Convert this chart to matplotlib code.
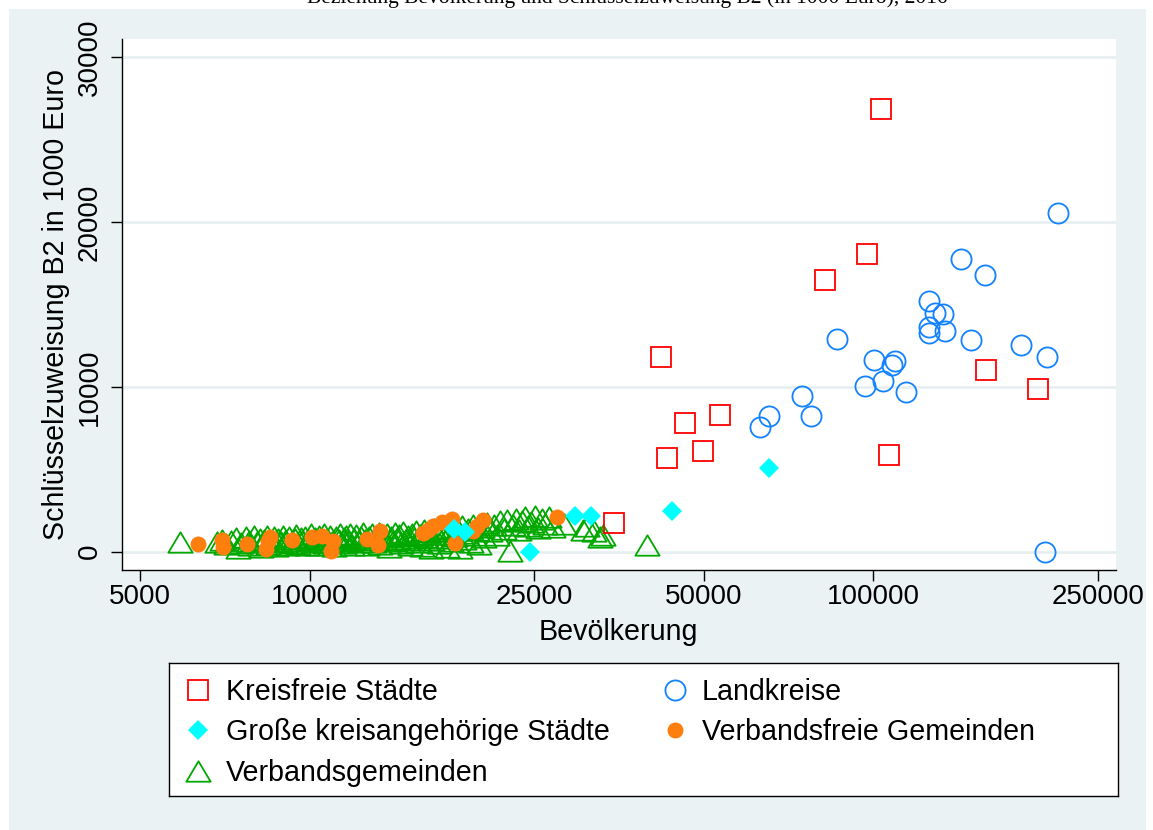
import matplotlib
matplotlib.use("Agg")
import matplotlib.pyplot as plt
from matplotlib.path import Path
from matplotlib.ticker import NullLocator

plt.rcParams['font.family'] = ['Liberation Sans', 'DejaVu Sans']

# ---------------- data ----------------
title = "Beziehung Bevölkerung und Schlüsselzuweisung B2 (in 1000 Euro), 2016"
x_label = "Bevölkerung"
y_label = "Schlüsselzuweisung B2 in 1000 Euro"
x_ticks = [5000, 10000, 25000, 50000, 100000, 250000]
y_ticks = [0, 10000, 20000, 30000]

series_names = ["Kreisfreie Städte", "Landkreise", "Große kreisangehörige Städte",
                "Verbandsfreie Gemeinden", "Verbandsgemeinden"]

kfs_pop = [103160, 97540, 82170, 42050, 158600, 196100, 53500, 46390, 49800, 43090, 106580, 34660]
kfs_b2 = [26845, 18046, 16487, 11796, 11026, 9891, 8295, 7809, 6110, 5704, 5850, 1760]

lk_pop = [212600, 142860, 157530, 125680, 128640, 133070, 125370, 125680, 133830, 149130, 182750, 203000,
          86070, 100370, 109370, 107770, 96510, 104130, 114120, 74620, 77410, 65280, 62930, 201800]
lk_b2 = [20552, 17761, 16790, 15212, 14466, 14424, 13617, 13252, 13374, 12846, 12542, 11833,
         12925, 11632, 11572, 11329, 10055, 10376, 9672, 9448, 8252, 8234, 7585, 0]

gks_pop = [65200, 43930, 29600, 31510, 18030, 18830, 24600]
gks_b2 = [5097, 2470, 2184, 2184, 1359, 1214, 0]

vfg_pop = [6344, 6982, 7027, 7750, 8365, 8503, 8444, 9314, 10083, 10503, 10896, 11013, 12622,
           13234, 13326, 15908, 16570, 17148, 17864, 18106, 19513, 20326, 27496, 16235, 19786]
vfg_b2 = [485, 728, 267, 485, 182, 874, 631, 692, 874, 971, 25, 631, 789,
          425, 1238, 1135, 1541, 1802, 2002, 528, 1238, 1942, 2087, 1335, 1541]

vg_pop = [5890, 6850, 6980, 7100,
          7250, 7400, 7450, 7550, 7700, 7800, 7850, 7950,
          8050, 8150, 8200, 8300, 8400, 8450, 8550, 8650, 8700, 8800, 8900, 8950,
          9050, 9100, 9200, 9300, 9400, 9450, 9550, 9650, 9700, 9800, 9900, 9950,
          10050, 10150, 10200, 10300, 10400, 10500, 10600, 10650, 10750, 10850, 10950,
          11050, 11150, 11250, 11300, 11400, 11500, 11600, 11700, 11800, 11900,
          12000, 12100, 12250, 12350, 12450, 12550, 12650, 12750, 12900,
          13000, 13100, 13250, 13350, 13450, 13600, 13700, 13850, 13950,
          14050, 14150, 14300, 14400, 14550, 14650, 14800, 14950,
          15050, 15200, 15300, 15450, 15550, 15700, 15850, 15950,
          16100, 16250, 16400, 16500, 16650, 16800, 16950,
          17100, 17250, 17400, 17500, 17650, 17800, 17950,
          18100, 18300, 18450, 18600, 18750, 18900,
          19100, 19300, 19450, 19600, 19800, 19950,
          20200, 20400, 20600, 20900, 21200, 21500, 21800,
          22100, 22400, 22700, 22900, 23200, 23500, 23800, 24100, 24400, 24700,
          25100, 25400, 25800, 26200, 26600, 27000,
          28200, 30600, 31000, 32000, 32700, 33200, 39700]
vg_b2 = [590, 560, 700, 480,
         620, 820, 250, 530, 880, 660, 380, 930,
         560, 800, 290, 700, 950, 480, 620, 870, 350, 760, 560, 980,
         650, 420, 880, 540, 760, 1000, 470, 820, 620, 920, 380, 700,
         1050, 560, 830, 430, 950, 680, 1100, 520, 790, 980, 600,
         350, 880, 700, 1050, 500, 820, 950, 620, 1100, 420,
         760, 1000, 560, 880, 1150, 680, 380, 920, 1050,
         600, 830, 1150, 480, 950, 720, 1080, 300, 880,
         620, 1150, 800, 1000, 520, 1200, 700, 950,
         420, 1100, 820, 1250, 600, 1000, 350, 1300,
         900, 1200, 250, 700, 1350, 1050, 500,
         1250, 850, 1450, 300, 1100, 650, 1500,
         950, 1300, 250, 1550, 780, 1150,
         1400, 600, 1650, 1000, 1300, 450,
         1500, 900, 1750, 1250, 1600, 1000, 1850,
         1400, 1950, 20, 1650, 2000, 1300, 1850, 2100, 1550, 1800,
         2150, 1450, 2000, 1700, 2100, 1500,
         1700, 1320, 1540, 1240, 920, 1030, 400]

# ---------------- style ----------------
W, H = 1153, 830
BG = '#eaf2f3'
c_red = '#ff0000'
c_blue = '#1282ff'
c_cyan = '#00ffff'
c_orange = '#ff7f0e'
c_green = '#00a800'
FS_TITLE = 20.6

tri = Path([(0, 0.42), (-0.5, -0.42), (0.5, -0.42), (0, 0.42)],
           [Path.MOVETO, Path.LINETO, Path.LINETO, Path.CLOSEPOLY])

styles = {
    "Kreisfreie Städte": dict(marker='s', ms=14, mfc='none', mec=c_red, mew=1.3),
    "Landkreise": dict(marker='o', ms=14.5, mfc='none', mec=c_blue, mew=1.3),
    "Große kreisangehörige Städte": dict(marker='D', ms=10, mfc=c_cyan, mec=c_cyan, mew=0),
    "Verbandsfreie Gemeinden": dict(marker='o', ms=11.5, mfc=c_orange, mec=c_orange, mew=0),
    "Verbandsgemeinden": dict(marker=tri, ms=17.5, mfc='none', mec=c_green, mew=1.3),
}

fig = plt.figure(figsize=(W / 100, H / 100), dpi=100)
fig.patch.set_facecolor('white')
bg = fig.add_axes([9 / W, 0, (1146 - 9) / W, 1 - 9.3 / H], zorder=-10)
bg.set_facecolor(BG)
bg.set_xticks([])
bg.set_yticks([])
for s in bg.spines.values():
    s.set_visible(False)

fig.text(627 / W, 1 - 3.0 / H, title, family=['Liberation Serif', 'DejaVu Serif'],
         fontsize=15.5, ha='center', va='baseline')

ax = fig.add_axes([121.7 / W, 1 - 570 / H, (1115.7 - 121.7) / W, (570 - 39) / H])
ax.set_facecolor('white')
ax.set_xscale('log')
ax.set_xlim(4640.6, 269000)
ax.set_ylim(-1110, 31110)

data = [
    ("Verbandsgemeinden", vg_pop, vg_b2, 2),
    ("Verbandsfreie Gemeinden", vfg_pop, vfg_b2, 3),
    ("Große kreisangehörige Städte", gks_pop, gks_b2, 4),
    ("Landkreise", lk_pop, lk_b2, 5),
    ("Kreisfreie Städte", kfs_pop, kfs_b2, 6),
]
for name, xs, ys, z in data:
    ax.plot(xs, ys, linestyle='none', zorder=z, **styles[name])

for yt in y_ticks:
    ax.axhline(yt, color='#e6eef0', lw=1.9, zorder=1)

ax.set_xticks(x_ticks, labels=[str(t) for t in x_ticks])
ax.xaxis.set_minor_locator(NullLocator())
ax.set_yticks(y_ticks, labels=[str(t) for t in y_ticks])
ax.tick_params(axis='both', direction='out', length=7.9, width=1, color='black',
               labelsize=20, labelcolor='black')
ax.tick_params(axis='x', pad=2.5)
ax.tick_params(axis='y', pad=5.5)
for lab in ax.get_yticklabels():
    lab.set_rotation(90)
    lab.set_va('center')
    lab.set_ha('right')

for s in ['top', 'right']:
    ax.spines[s].set_visible(False)
for s in ['left', 'bottom']:
    ax.spines[s].set_linewidth(1)
    ax.spines[s].set_color('black')

fig.text(618.7 / W, 1 - 640 / H, x_label, fontsize=FS_TITLE, ha='center', va='baseline')
fig.text(56 / W, 1 - 304 / H, y_label, fontsize=FS_TITLE, rotation=90, ha='center', va='center')

# ---------------- legend ----------------
lx0, lx1, ly0, ly1 = 169, 1118, 663, 796
lax = fig.add_axes([lx0 / W, 1 - ly1 / H, (lx1 - lx0) / W, (ly1 - ly0) / H])
lax.set_xlim(lx0, lx1)
lax.set_ylim(ly1, ly0)
lax.set_facecolor('white')
lax.set_xticks([])
lax.set_yticks([])
for s in lax.spines.values():
    s.set_linewidth(1)
    s.set_color('black')

legend_order = ["Kreisfreie Städte", "Landkreise", "Große kreisangehörige Städte",
                "Verbandsfreie Gemeinden", "Verbandsgemeinden"]
col_mx = [198, 675]
col_tx = [226, 702]
row_y = [690, 730, 771]
for i, name in enumerate(legend_order):
    r, c = divmod(i, 2)
    lax.plot([col_mx[c]], [row_y[r]], linestyle='none', **styles[name])
    lax.text(col_tx[c], row_y[r] + 10, name, fontsize=FS_TITLE, ha='left', va='baseline')

fig.savefig('out.png', dpi=100, facecolor=fig.get_facecolor())
